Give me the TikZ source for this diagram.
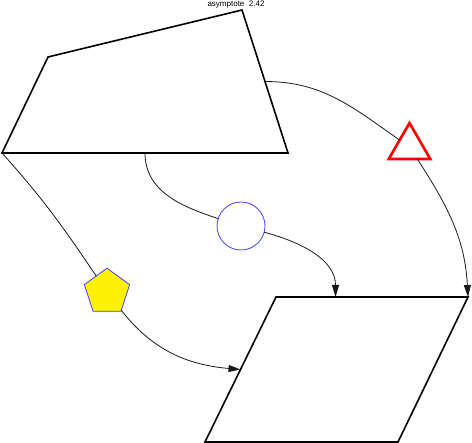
\documentclass[tikz,border=0pt]{standalone}
\usepackage{fontspec}
\setmainfont{Liberation Sans}
\usetikzlibrary{shapes.geometric,arrows.meta,calc}
\begin{document}
\begin{tikzpicture}[x=1pt,y=1pt,
  outline/.style={line width=1.6pt,line join=miter},
  link/.style={line width=0.8pt,black!90},
  arrowlink/.style={link,-{Triangle[length=12pt,width=7pt]}},
  ring/.style={circle,draw=blue!75,line width=0.8pt,minimum size=48pt,inner sep=0pt,outer sep=0pt},
  pent/.style={regular polygon,regular polygon sides=5,draw=blue!75,fill=yellow,line width=0.8pt,minimum size=47.6pt,inner sep=0pt,outer sep=0pt},
  tri/.style={regular polygon,regular polygon sides=3,draw=red,line width=2.6pt,minimum size=48pt,inner sep=0pt,outer sep=0pt}]
\useasboundingbox (0,0) rectangle (472,-443);
% title
\node (title) at (236,-4.5) {\fontsize{8}{8}\selectfont asymptote\ \ 2.42};
% quadrilateral
\coordinate (q1) at (2,-153);
\coordinate (q2) at (48,-57);
\coordinate (q3) at (242,-10);
\coordinate (q4) at (288,-153);
\draw[outline] (q1) -- (q2) -- (q3) -- (q4) -- cycle;
% parallelogram
\coordinate (p1) at (276,-297);
\coordinate (p2) at (468,-297);
\coordinate (p3) at (398,-442);
\coordinate (p4) at (205,-442);
\draw[outline] (p1) -- (p2) -- (p3) -- (p4) -- cycle;
% connection points
\coordinate (qb) at ($(q1)!0.5!(q4)$);
\coordinate (qr) at ($(q3)!0.5!(q4)$);
\coordinate (pt) at ($(p1)!0.31!(p2)$);
\coordinate (pl) at ($(p1)!0.5!(p4)$);
% marker shapes
\node[ring] (circ) at (241,-226) {};
\node[pent] (penta) at (107,-292) {};
\node[tri] (trian) at (409.5,-147) {};
% connectors
\draw[link] (qb) to[out=-90,in=162] (circ);
\draw[arrowlink] (circ) to[out=-15,in=90] (pt);
\draw[link] (q1) to[out=-48,in=124] (penta);
\draw[arrowlink] (penta) to[out=-52,in=175] (pl);
\draw[link] (qr) to[out=0,in=145] (trian);
\draw[arrowlink] (trian) to[out=-57,in=93] (p2);
\end{tikzpicture}
\end{document}
